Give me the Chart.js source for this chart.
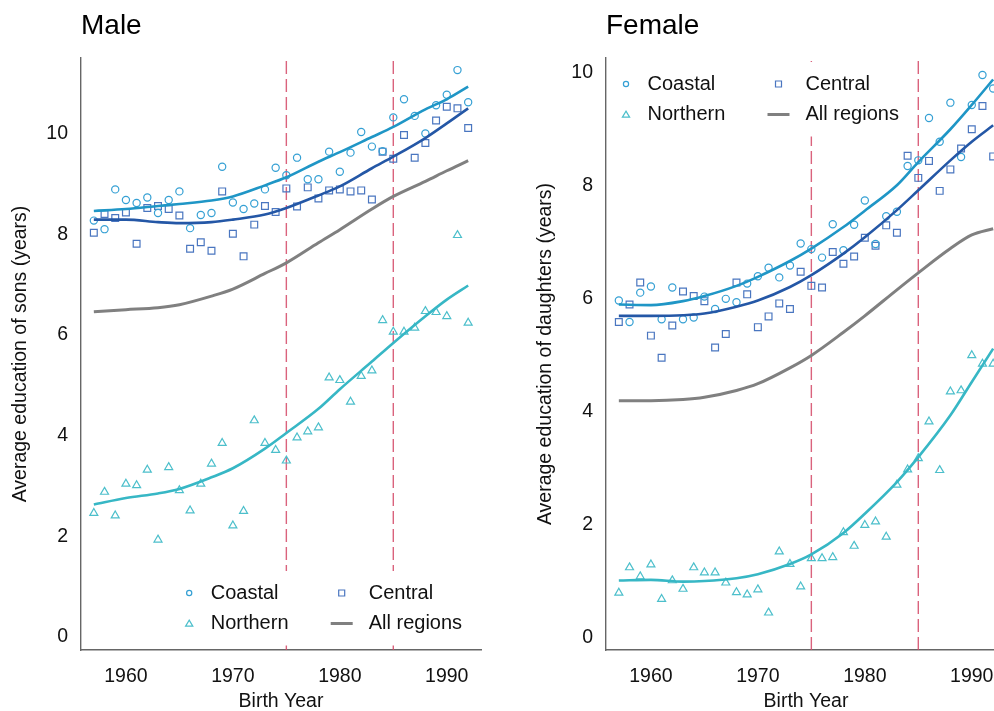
<!DOCTYPE html>
<html>
<head>
<meta charset="utf-8">
<title>Average education by birth year</title>
<script src="https://cdn.jsdelivr.net/npm/chart.js"></script>
<style>
  html, body { margin: 0; padding: 0; background: #fff; overflow: hidden; }
  #wrap { position: relative; width: 994px; height: 711px; overflow: hidden; }
  canvas { position: absolute; top: 0; }
  #maleChart { left: 0; }
  #femaleChart { left: 525px; }
</style>
</head>
<body>
<div id="wrap">
  <canvas id="maleChart" width="497" height="711"></canvas>
  <canvas id="femaleChart" width="497" height="711"></canvas>
</div>
<script>
const years = [1957, 1958, 1959, 1960, 1961, 1962, 1963, 1964, 1965, 1966, 1967, 1968,
  1969, 1970, 1971, 1972, 1973, 1974, 1975, 1976, 1977, 1978, 1979, 1980,
  1981, 1982, 1983, 1984, 1985, 1986, 1987, 1988, 1989, 1990, 1991, 1992]
const fitYears = [1957, 1960, 1963, 1965, 1968, 1970, 1973, 1975, 1978, 1980, 1983, 1985, 1988, 1990, 1992]
const cutoffYears = [1975, 1985]
const xTicks = [1960, 1970, 1980, 1990]
const yTicks = [0, 2, 4, 6, 8, 10]
const legendLabels = ['Coastal', 'Central', 'Northern', 'All regions']

// sons
const maleCoastal = [8.27, 8.10, 8.89, 8.68, 8.62, 8.73, 8.42, 8.68, 8.85, 8.12, 8.38, 8.42,
  9.34, 8.63, 8.50, 8.61, 8.89, 9.32, 9.17, 9.52, 9.09, 9.09, 9.64, 9.24,
  9.62, 10.03, 9.74, 9.65, 10.32, 10.68, 10.35, 10.00, 10.56, 10.77, 11.26, 10.62]
const maleCentral = [8.03, 8.40, 8.32, 8.43, 7.81, 8.52, 8.56, 8.50, 8.37, 7.71, 7.84, 7.67,
  8.85, 8.01, 7.56, 8.19, 8.56, 8.44, 8.91, 8.55, 8.93, 8.71, 8.87, 8.89,
  8.85, 8.87, 8.69, 9.64, 9.50, 9.97, 9.52, 9.81, 10.26, 10.53, 10.50, 10.11]
const maleNorthern = [2.46, 2.88, 2.41, 3.04, 3.01, 3.32, 1.93, 3.37, 2.91, 2.51, 3.04, 3.44,
  3.85, 2.21, 2.50, 4.30, 3.85, 3.71, 3.50, 3.96, 4.08, 4.16, 5.15, 5.10,
  4.67, 5.18, 5.29, 6.29, 6.06, 6.06, 6.14, 6.47, 6.45, 6.37, 7.98, 6.24]
const maleCoastalFit = [8.46, 8.50, 8.56, 8.60, 8.67, 8.75, 8.97, 9.13, 9.44, 9.63, 9.93, 10.13, 10.48, 10.68, 10.93]
const maleCentralFit = [8.29, 8.29, 8.24, 8.22, 8.24, 8.29, 8.39, 8.52, 8.77, 8.95, 9.31, 9.54, 9.91, 10.20, 10.50]
const maleNorthernFit = [2.63, 2.76, 2.85, 2.94, 3.17, 3.35, 3.74, 4.05, 4.53, 4.92, 5.47, 5.84, 6.37, 6.70, 6.98]
const maleAllFit = [6.46, 6.50, 6.54, 6.60, 6.77, 6.91, 7.22, 7.43, 7.83, 8.09, 8.50, 8.75, 9.05, 9.26, 9.46]

// daughters
const femaleCoastal = [5.96, 5.58, 6.10, 6.21, 5.63, 6.19, 5.63, 5.66, 6.03, 5.81, 5.99, 5.93,
  6.26, 6.39, 6.54, 6.37, 6.58, 6.97, 6.87, 6.72, 7.31, 6.85, 7.30, 7.73,
  6.96, 7.45, 7.53, 8.34, 8.44, 9.19, 8.77, 9.46, 8.50, 9.42, 9.95, 9.71]
const femaleCentral = [5.58, 5.89, 6.28, 5.34, 4.95, 5.52, 6.12, 6.04, 5.95, 5.13, 5.37, 6.28,
  6.07, 5.49, 5.68, 5.91, 5.81, 6.47, 6.22, 6.19, 6.82, 6.61, 6.74, 7.07,
  6.93, 7.29, 7.16, 8.52, 8.13, 8.43, 7.90, 8.28, 8.65, 8.99, 9.40, 8.51]
const femaleNorthern = [0.79, 1.24, 1.08, 1.29, 0.68, 1.01, 0.86, 1.24, 1.15, 1.15, 0.97, 0.80,
  0.76, 0.85, 0.44, 1.52, 1.30, 0.90, 1.40, 1.40, 1.42, 1.86, 1.62, 1.99,
  2.05, 1.78, 2.70, 2.97, 3.17, 3.82, 2.96, 4.35, 4.37, 4.99, 4.84, 4.84]
const femaleCoastalFit = [5.89, 5.88, 5.95, 6.04, 6.22, 6.38, 6.66, 6.88, 7.26, 7.55, 8.00, 8.41, 8.99, 9.42, 9.87]
const femaleCentralFit = [5.69, 5.69, 5.70, 5.73, 5.85, 5.96, 6.20, 6.41, 6.79, 7.08, 7.56, 7.91, 8.44, 8.77, 9.06]
const femaleNorthernFit = [1.01, 1.02, 0.99, 1.00, 1.05, 1.12, 1.30, 1.47, 1.85, 2.19, 2.75, 3.19, 3.93, 4.52, 5.11]
const femaleAllFit = [4.19, 4.19, 4.21, 4.25, 4.37, 4.49, 4.77, 4.99, 5.40, 5.69, 6.15, 6.45, 6.88, 7.12, 7.23]

const FONT = "'Liberation Sans', Arial, sans-serif"
const colors = {
    coastal: '#35a0d4', coastalLine: '#1f96c6',
    central: '#4a76c0', centralLine: '#2457a6',
    northern: '#4cbfcb', northernLine: '#37b7c5',
    all: '#808080',
    cutoff: 'rgba(212, 72, 102, 0.85)'
}

Chart.defaults.font.family = FONT
Chart.defaults.color = '#111'

function drawMark(ctx, mark, color, x, y) {
    ctx.save()
    ctx.strokeStyle = color
    ctx.lineWidth = 1.2
    ctx.beginPath()
    if (mark === 'circle') {
        ctx.arc(x, y, 2.6, 0, Math.PI * 2)
    } else if (mark === 'rect') {
        ctx.rect(x - 3, y - 3, 6, 6)
    } else if (mark === 'triangle') {
        ctx.moveTo(x, y - 3.4)
        ctx.lineTo(x + 3.6, y + 2.6)
        ctx.lineTo(x - 3.6, y + 2.6)
        ctx.closePath()
    } else {
        ctx.lineWidth = 3
        ctx.moveTo(x - 11, y)
        ctx.lineTo(x + 11, y)
    }
    ctx.stroke()
    ctx.restore()
}

// legend drawn inside the plot area, 2 x 2, on a white box that hides the cutoff lines
const insideLegend = {
    id: 'insideLegend',
    afterDraw(chart, args, opts) {
        const {ctx, chartArea} = chart
        const entries = legendLabels.map(name => chart.data.datasets.find(ds => ds.label === name && ds.legendMark))
        const left = chartArea.left + opts.x
        const top = chartArea.top + opts.y
        ctx.save()
        ctx.font = `20px ${FONT}`
        ctx.textBaseline = 'middle'
        const boxRight = left + 158 + ctx.measureText(entries[3].label).width + 10
        ctx.fillStyle = '#fff'
        ctx.fillRect(left - 36, top - 22, boxRight - (left - 36), 30.5 + 44)
        entries.forEach((ds, i) => {
            const col = i % 2
            const row = Math.floor(i / 2)
            const textX = left + col * 158
            const y = top + row * 30.5
            drawMark(ctx, ds.legendMark, ds.legendColor, textX - (col ? 27 : 21.5), y)
            ctx.fillStyle = '#111'
            ctx.fillText(ds.label, textX, y)
        })
        ctx.restore()
    }
}

function toPoints(xs, ys) {
    return xs.map((x, i) => ({x, y: ys[i]}))
}

function fitLine(label, values, color, width, mark) {
    return {
        label,
        data: toPoints(fitYears, values),
        showLine: true,
        borderColor: color,
        borderWidth: width,
        pointRadius: 0,
        cubicInterpolationMode: 'monotone',
        legendMark: mark,
        legendColor: color
    }
}

function markers(label, values, color, style, radius) {
    return {
        label,
        data: toPoints(years, values),
        showLine: false,
        pointStyle: style,
        pointRadius: radius,
        pointBorderWidth: 1.2,
        borderColor: color,
        backgroundColor: 'rgba(0,0,0,0)',
        legendMark: style,
        legendColor: color
    }
}

function cutoff(year, yMin, yMax) {
    return {
        label: 'cutoff ' + year,
        data: [{x: year, y: yMin}, {x: year, y: yMax}],
        showLine: true,
        borderColor: colors.cutoff,
        borderWidth: 1.4,
        borderDash: [13, 5],
        pointRadius: 0
    }
}

function buildPanel(canvasId, panel) {
    const datasets = [
        fitLine('Coastal fit', panel.coastalFit, colors.coastalLine, 2.6),
        fitLine('Central fit', panel.centralFit, colors.centralLine, 2.6),
        fitLine('Northern fit', panel.northernFit, colors.northernLine, 2.6),
        fitLine('All regions', panel.allFit, colors.all, 3, 'line'),
        markers('Coastal', panel.coastal, colors.coastal, 'circle', 3.6),
        markers('Central', panel.central, colors.central, 'rect', 4.8),
        markers('Northern', panel.northern, colors.northern, 'triangle', 4.6),
        ...cutoffYears.map(yr => cutoff(yr, panel.yMin, panel.yMax))
    ]

    new Chart(document.getElementById(canvasId), {
        type: 'scatter',
        data: { datasets },
        options: {
            responsive: false,
            animation: false,
            layout: { padding: { left: 0, right: 16, top: 0, bottom: 0 } },
            plugins: {
                legend: { display: false },
                tooltip: { enabled: false },
                title: {
                    display: true,
                    text: panel.title,
                    align: 'start',
                    fullSize: false,
                    color: '#000',
                    font: { size: 28, weight: 'normal', lineHeight: 1.2 },
                    padding: { top: 9, bottom: 15.4 }
                },
                insideLegend: panel.legend
            },
            scales: {
                x: {
                    type: 'linear',
                    min: 1955.8,
                    max: 1993.2,
                    afterBuildTicks: (scale) => { scale.ticks = xTicks.map(v => ({value: v})) },
                    afterFit: (scale) => { scale.height = 61 },
                    grid: { display: false, drawTicks: false },
                    border: { display: true, color: '#666', width: 1.4 },
                    ticks: { padding: 15, color: '#111', font: { size: 19.5 }, callback: (v) => String(v) },
                    title: {
                        display: true,
                        text: 'Birth Year',
                        color: '#111',
                        font: { size: 19.5, lineHeight: 1 },
                        padding: { top: 0, bottom: 0 }
                    }
                },
                y: {
                    min: panel.yMin,
                    max: panel.yMax,
                    afterBuildTicks: (scale) => { scale.ticks = yTicks.map(v => ({value: v})) },
                    afterFit: (scale) => { scale.width = 81 },
                    grid: { display: false, drawTicks: false },
                    border: { display: true, color: '#666', width: 1.4 },
                    ticks: { padding: 13, color: '#111', font: { size: 19.5 } },
                    title: {
                        display: true,
                        text: panel.yTitle,
                        color: '#111',
                        font: { size: 19.5, lineHeight: 1 },
                        padding: { top: 11, bottom: 0 }
                    }
                }
            }
        },
        plugins: [insideLegend]
    })
}

window.addEventListener('load', () => {
    try {
        buildPanel('maleChart', {
            title: 'Male',
            yTitle: 'Average education of sons (years)',
            yMin: -0.26, yMax: 11.5,
            coastal: maleCoastal, central: maleCentral, northern: maleNorthern,
            coastalFit: maleCoastalFit, centralFit: maleCentralFit,
            northernFit: maleNorthernFit, allFit: maleAllFit,
            legend: { x: 129.7, y: 535 }
        })
        buildPanel('femaleChart', {
            title: 'Female',
            yTitle: 'Average education of daughters (years)',
            yMin: -0.22, yMax: 10.25,
            coastal: femaleCoastal, central: femaleCentral, northern: femaleNorthern,
            coastalFit: femaleCoastalFit, centralFit: femaleCentralFit,
            northernFit: femaleNorthernFit, allFit: femaleAllFit,
            legend: { x: 41.5, y: 26 }
        })
    } catch (e) {
        console.error(e)
    }
})
</script>
</body>
</html>
